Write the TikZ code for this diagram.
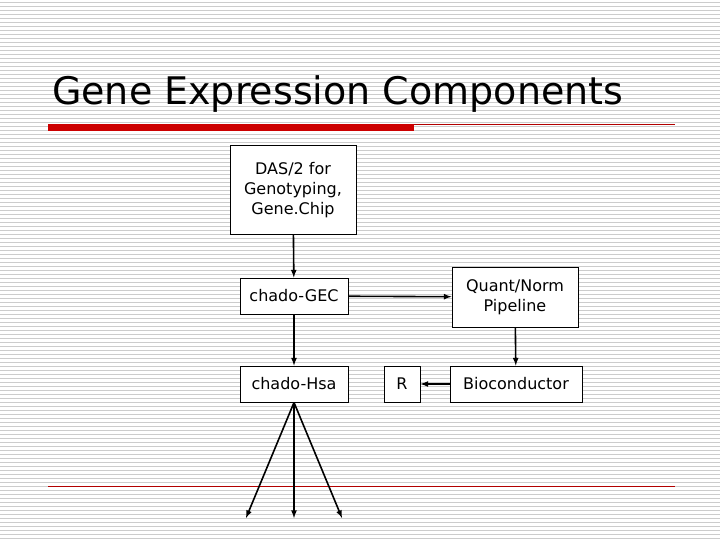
\documentclass[tikz,border=0pt]{standalone}
\usepackage{fontspec}
\setmainfont{DejaVu Sans}
\usetikzlibrary{positioning}

\begin{document}
\begin{tikzpicture}[x=1pt,y=-1pt,->,>=latex,line width=1.6pt,font=\fontsize{16}{20}\selectfont,
    box/.style={draw,-,line width=1pt,fill=white,text centered,align=center,inner sep=2pt}]

    % background stripes and slide lines
    \fill[white] (0,0) rectangle (720,540);
    \useasboundingbox (0,0) rectangle (720,540);
    \foreach \y in {2,6,...,538}
        \draw[-,gray!40,line width=0.7pt] (0,\y) -- (720,\y);
    \draw[-,red!70!black,line width=0.6pt] (48,124) -- (675,124);
    \fill[red!80!black] (48,124) rectangle (414,131);
    \draw[-,red!70!black,line width=0.6pt] (48,486) -- (675,486);

    \node[anchor=west,font=\fontsize{38}{44}\selectfont] (title) at (48,94)
    {Gene Expression Components};

    \node[box,minimum width=126pt,minimum height=89pt] (das) at (293,190)
    {DAS/2 for\\Genotyping,\\Gene.Chip};
    \node[box,minimum width=108pt,minimum height=36pt] (gec) at (294,296) {chado-GEC};
    \node[box,minimum width=126pt,minimum height=60pt] (quant) at (515,297)
    {Quant/Norm\\Pipeline};
    \node[box,minimum width=108pt,minimum height=36pt] (hsa) at (294,384) {chado-Hsa};
    \node[box,minimum width=36pt,minimum height=36pt] (r) at (402,384) {R};
    \node[box,minimum width=132pt,minimum height=36pt] (bioc) at (516,384) {Bioconductor};

    \coordinate (f1) at (246,518);
    \coordinate (f2) at (294,518);
    \coordinate (f3) at (342,518);

    \draw (das) -- (gec);
    \draw (gec) -- (hsa);
    \draw (gec) -- (quant);
    \draw (quant) -- (bioc);
    \draw (bioc) -- (r);
    \draw (hsa.south) -- (f1);
    \draw (hsa.south) -- (f2);
    \draw (hsa.south) -- (f3);
\end{tikzpicture}
\end{document}
